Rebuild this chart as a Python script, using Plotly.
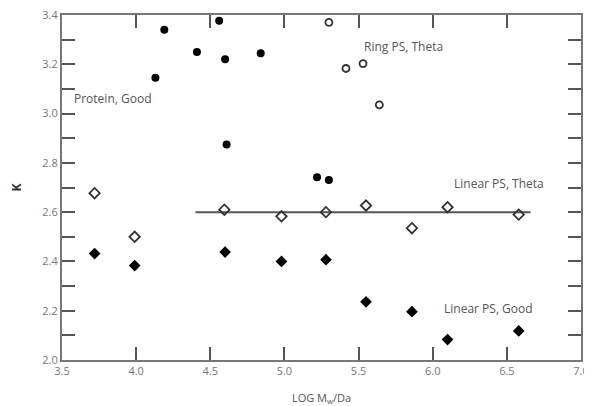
import plotly.graph_objects as go

# Protein, Good (filled circles)
protein_x = [4.13, 4.19, 4.41, 4.56, 4.60, 4.61, 4.84, 5.22, 5.30]
protein_k = [3.145, 3.34, 3.25, 3.377, 3.22, 2.875, 3.245, 2.742, 2.73]

# Ring PS, Theta (open circles)
ring_x = [5.30, 5.415, 5.53, 5.64]
ring_k = [3.37, 3.183, 3.203, 3.035]

# Linear PS, Theta (open diamonds)
lin_theta_x = [3.72, 3.99, 4.595, 4.98, 5.28, 5.55, 5.86, 6.10, 6.58]
lin_theta_k = [2.677, 2.50, 2.61, 2.583, 2.60, 2.627, 2.535, 2.62, 2.59]

# Linear PS, Good (filled diamonds)
lin_good_x = [3.72, 3.99, 4.60, 4.98, 5.28, 5.55, 5.86, 6.10, 6.58]
lin_good_k = [2.432, 2.383, 2.438, 2.40, 2.407, 2.236, 2.196, 2.083, 2.118]

# Theta reference line
theta_line_x = [4.40, 6.66]
theta_line_k = [2.6, 2.6]

x_ticks = [3.5, 4.0, 4.5, 5.0, 5.5, 6.0, 6.5, 7.0]
y_ticks = [round(2.0 + 0.1 * i, 1) for i in range(15)]
y_labels = [f"{v:.1f}" if round(v * 10) % 2 == 0 else "" for v in y_ticks]

fig = go.Figure()
fig.add_trace(go.Scatter(x=theta_line_x, y=theta_line_k, mode="lines",
                         line=dict(color="#555555", width=2), showlegend=False))
fig.add_trace(go.Scatter(x=protein_x, y=protein_k, mode="markers",
                         marker=dict(symbol="circle", size=8, color="black"), showlegend=False))
fig.add_trace(go.Scatter(x=ring_x, y=ring_k, mode="markers",
                         marker=dict(symbol="circle-open", size=7, color="#333333",
                                     line=dict(width=1.8)), showlegend=False))
fig.add_trace(go.Scatter(x=lin_theta_x, y=lin_theta_k, mode="markers",
                         marker=dict(symbol="diamond-open", size=8, color="#333333",
                                     line=dict(width=1.8)), showlegend=False))
fig.add_trace(go.Scatter(x=lin_good_x, y=lin_good_k, mode="markers",
                         marker=dict(symbol="diamond", size=9, color="black"), showlegend=False))

font_fam = "Open Sans, Lato, sans-serif"
ann_style = dict(showarrow=False, xanchor="left", yanchor="middle",
                 font=dict(family=font_fam, size=12, color="#555555"))
fig.add_annotation(x=3.565, y=3.063, text="Protein, Good", **ann_style)
fig.add_annotation(x=5.525, y=3.274, text="Ring PS, Theta", **ann_style)
fig.add_annotation(x=6.13, y=2.718, text="Linear PS, Theta", **ann_style)
fig.add_annotation(x=6.063, y=2.208, text="Linear PS, Good", **ann_style)

axis_common = dict(showgrid=False, zeroline=False, showline=True, linecolor="#777777",
                   linewidth=2, ticks="inside", ticklen=13, tickwidth=2, tickcolor="#555555",
                   mirror="ticks", automargin=False, layer="above traces",
                   ticklabeloverflow="allow",
                   tickfont=dict(family=font_fam, size=11, color="#777777"))

fig.update_xaxes(range=[3.5, 7.0], tickvals=x_ticks,
                 ticktext=[f"{v:.1f}" for v in x_ticks],
                 title=dict(text="LOG M<sub>w</sub>/Da", standoff=18,
                            font=dict(family=font_fam, size=11, color="#555555")),
                 **axis_common)
fig.update_yaxes(range=[2.0, 3.4], tickvals=y_ticks, ticktext=y_labels,
                 title=dict(text="<b>K</b>", standoff=27,
                            font=dict(family=font_fam, size=12, color="#333333")),
                 **axis_common)

# page body adds an 8px offset, so the figure is sized to fit inside it
fig.update_layout(width=584, height=398, margin=dict(l=54, r=11, t=7, b=46),
                  plot_bgcolor="white", paper_bgcolor="white", showlegend=False)

fig.write_html("out.html")
